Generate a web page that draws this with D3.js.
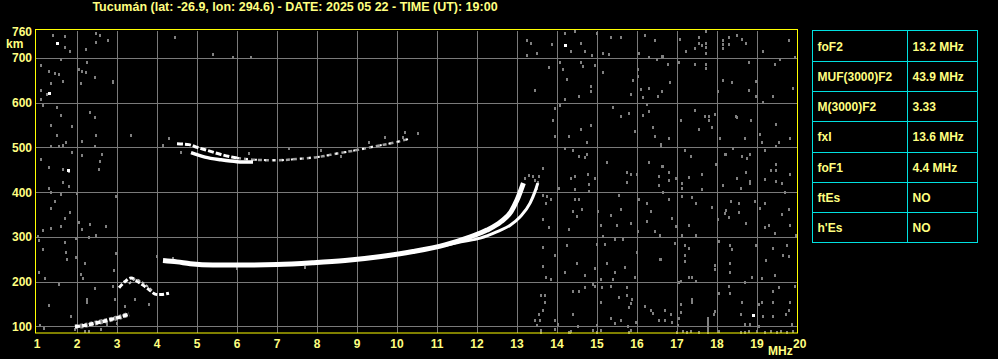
<!DOCTYPE html>
<html>
<head>
<meta charset="utf-8">
<style>
  body { margin: 0; background: #000; }
  svg { display: block; background: #000; }
  text { font-family: "Liberation Sans", Arial, sans-serif; font-weight: bold; fill: #ffff80; }
  .grid line { stroke: #7a7a7a; stroke-width: 1; shape-rendering: crispEdges; }
</style>
</head>
<body>
<svg width="998" height="359"></svg>
<script src="https://cdn.jsdelivr.net/npm/d3@7"></script>
<script>
// ionogram - Tucuman 2025-05-22 19:00 UT

var title = "Tucumán (lat: -26.9, lon: 294.6) - DATE: 2025 05 22 - TIME (UT): 19:00";
var freqTicks = [1,2,3,4,5,6,7,8,9,10,11,12,13,14,15,16,17,18,19,20];
var heightTicks = [100,200,300,400,500,600,700,760];

var paramNames = ["foF2", "MUF(3000)F2", "M(3000)F2", "fxI", "foF1", "ftEs", "h'Es"];
var paramValues = ["13.2 MHz", "43.9 MHz", "3.33", "13.6 MHz", "4.4 MHz", "NO", "NO"];

// echo traces [freq MHz, virtual height km]
var traceO = [[4.15,247],[4.5,244],[4.83,240],[5.4,237],[6.2,237],[7.0,238],[7.9,242],[8.7,247],
  [9.6,256],[10.4,267],[11.2,282],[11.8,299],[12.25,315],[12.6,334],[12.85,356],[13.0,382],[13.16,420]];
var traceX = [[11.2,281],[11.6,289],[12.08,297],[12.49,311],[12.83,326],[13.08,345],[13.33,376],[13.45,401],[13.52,420]];
var twoHopA = [[4.5,508],[4.8,506],[5.0,500],[5.3,492],[5.6,484],[6.0,476]];
var twoHopB = [[6.0,476],[6.5,472],[7.0,471],[7.5,474],[8.0,478],[8.5,486],[9.0,494],[9.5,503],[10.0,512],[10.3,519]];
var twoHopX = [[4.85,488],[5.2,478],[5.6,472],[6.0,468],[6.4,467]];
var eTrace = [[1.95,99],[2.2,102],[2.45,107],[2.75,113],[3.05,120],[3.3,127]];
var f1Trace = [[3.05,186],[3.2,200],[3.35,208],[3.5,201],[3.65,192],[3.8,182],[3.95,172],[4.1,171],[4.3,174]];
var f1TraceB = [[3.3,195],[3.45,205],[3.6,200],[3.75,190],[3.9,178]];

// scattered noise echoes
var noiseLeft = [[1.39,752],[1.69,748],[2.48,756],[2.58,752],[2.77,740],[2.48,735],[1.69,725],[1.83,715],[2.23,720],
  [1.59,698],[1.1,684],[1.3,670],[1.45,666],[1.55,664],[1.64,648],[1.35,644],[2.04,674],[2.13,670],[2.23,668],
  [2.44,657],[2.24,691],[2.89,648],[2.1,644],[1.1,629],[1.24,620],[1.1,607],[1.14,594],[1.49,590],[1.59,572],
  [1.88,547],[2.33,579],[2.44,567],[1.34,549],[1.49,527],[1.34,504],[1.55,504],[1.65,506],[1.73,512],[2.13,514],
  [2.48,527],[2.44,504],[1.88,489],[1.1,473],[2.13,483],[2.63,486],[1.3,456],[1.64,451],[1.79,447],[2.55,451],
  [2.58,469],[1.64,422],[1.79,413],[1.31,410],[1.34,400],[2.0,397],[1.6,395],[1.45,381],[1.34,365],[2.98,391],
  [1.83,355],[1.69,341],[2.04,333],[2.33,328],[1.16,315],[1.34,319],[1.6,324],[2.13,318],[2.73,324],[2.48,305],
  [2.31,300],[1.03,302],[1.06,293],[1.98,297],[1.14,273],[1.69,288],[1.72,266],[1.74,251],[1.97,255],[2.19,241],
  [2.98,264],[2.93,226],[1.06,221],[1.2,209],[1.55,194],[2.1,216],[2.14,209],[2.44,186],[2.89,190],[1.3,147],
  [2.25,162],[2.25,154],[1.84,124],[1.07,102],[1.18,97],[1.94,93],[2.19,89],[2.31,89],[2.89,646],[3.34,528],
  [2.6,95],[2.75,104],[3.0,108],[3.2,146],[3.45,160],[2.95,160]];
var noiseMid = [[4.45,747],[5.41,709],[5.89,702],[6.34,702],[13.24,740],[13.24,707],[10.2,534],[10.53,532],
  [9.7,522],[10.16,522],[4.3,520],[4.15,505],[4.6,490],[6.3,488],[7.3,498],[8.1,494],[8.6,480],[9.3,512],
  [4.0,257],[4.4,253],[6.0,231],[7.7,233],[12.3,318],[13.2,432],[13.3,438],[13.45,426],[13.55,436],[3.8,150]];
var noiseRight = [[14.2,756],[14.44,761],[14.99,756],[15.34,747],[15.59,747],[16.2,751],[16.44,739],[13.88,730],
  [14.59,734],[13.49,711],[14.34,715],[14.69,716],[14.88,707],[15.14,711],[15.3,709],[16.05,711],[16.3,701],
  [16.49,698],[16.64,704],[13.34,734],[14.07,691],[13.8,680],[14.15,674],[14.59,691],[14.65,681],[14.94,683],
  [15.15,669],[14.24,653],[14.84,638],[14.84,625],[13.45,629],[14.2,607],[14.54,615],[15.9,651],[16.03,674],
  [16.11,631],[16.29,633],[16.15,613],[16.52,615],[16.63,625],[15.84,619],[16.03,659],[13.94,587],[14.08,594],
  [13.9,560],[13.94,526],[14.29,526],[14.59,542],[14.84,551],[14.74,512],[15.39,590],[15.59,571],[15.79,577],
  [16.15,573],[16.29,582],[16.4,546],[15.95,536],[16.44,526],[16.61,508],[16.24,596],[14.2,499],[14.39,495],
  [14.55,481],[14.74,485],[14.69,478],[15.24,467],[13.64,454],[13.39,437],[13.53,422],[13.49,409],[14.44,437],
  [14.78,441],[14.94,431],[14.34,431],[14.79,419],[14.44,407],[15.74,445],[15.84,440],[15.75,422],[16.0,440],
  [16.3,467],[16.54,436],[16.55,416],[16.64,459],[14.04,410],[14.79,403],[15.54,394],[13.65,394],[13.75,392],
  [13.84,384],[13.73,375],[14.44,384],[14.55,384],[14.4,358],[14.63,362],[14.49,346],[15.03,357],[15.34,349],
  [15.09,327],[15.5,327],[15.59,362],[15.84,331],[16.04,385],[16.24,375],[16.34,358],[16.24,336],[16.44,313],
  [16.57,304],[16.03,313],[13.65,340],[13.8,321],[14.3,318],[15.15,301],[13.64,278],[13.94,260],[14.24,281],
  [14.2,221],[13.65,234],[13.84,206],[13.73,211],[14.49,241],[14.69,215],[14.94,231],[14.99,284],[15.2,284],
  [15.25,241],[15.44,222],[15.4,206],[15.09,206],[15.69,232],[15.99,267],[15.94,211],[15.44,294],[15.64,295],
  [16.59,251],[14.9,194],[14.94,191],[15.34,190],[15.74,187],[15.13,187],[14.39,178],[14.55,179],[14.69,188],
  [13.61,170],[13.69,170],[13.69,155],[13.65,137],[13.55,127],[13.44,114],[13.57,114],[13.49,103],[13.94,114],
  [14.03,104],[14.39,127],[14.53,101],[15.09,154],[15.54,166],[15.74,170],[15.88,161],[15.79,144],[15.86,151],
  [16.2,146],[16.36,137],[16.39,129],[16.55,114],[15.34,118],[15.44,107],[15.61,114],[15.77,101],[15.97,110],
  [14.99,103],[14.9,92],[15.11,92],[14.32,88],[13.94,94],[13.61,92],[15.86,92],
  [17.08,743],[17.54,747],[17.73,761],[17.73,734],[17.73,724],[17.54,734],[17.63,728],[17.44,721],[17.23,716],
  [17.73,711],[18.15,739],[18.29,747],[18.15,730],[18.29,730],[18.15,721],[18.5,752],[18.63,743],[18.73,734],
  [19.15,716],[19.79,741],[16.63,704],[19.94,702],[16.78,687],[17.04,691],[17.44,687],[17.73,687],[17.73,678],
  [18.79,690],[19.44,687],[19.58,698],[16.83,646],[16.63,625],[18.15,651],[18.38,646],[18.03,627],[18.79,629],
  [18.97,649],[18.98,614],[19.15,601],[19.4,614],[19.9,633],[17.44,584],[17.09,562],[17.69,569],[17.79,569],
  [17.94,575],[17.79,560],[17.88,545],[17.54,540],[18.47,569],[18.5,567],[18.84,562],[19.48,552],[19.08,530],
  [18.69,521],[18.08,521],[16.79,521],[19.82,521],[19.13,513],[19.54,512],[19.48,504],[16.59,504],[17.19,495],
  [17.34,481],[18.21,484],[18.23,486],[18.4,499],[18.63,481],[18.75,476],[18.83,485],[19.19,493],[19.48,463],
  [19.48,450],[19.36,450],[19.83,440],[16.63,459],[16.79,445],[16.79,428],[16.98,431],[17.29,434],[17.63,440],
  [17.98,463],[18.15,416],[18.51,431],[18.59,410],[18.73,445],[18.83,424],[18.82,420],[19.19,430],[19.48,425],
  [19.63,420],[17.13,420],[17.13,410],[17.63,407],[16.65,401],[19.69,400],[17.13,392],[16.79,384],[17.38,389],
  [17.48,375],[17.88,366],[18.34,381],[18.54,375],[18.23,360],[18.19,353],[18.3,344],[18.54,355],[18.94,381],
  [19.08,364],[19.19,375],[19.63,351],[19.79,362],[18.73,331],[18.02,340],[16.88,343],[16.98,325],[17.29,327],
  [19.19,322],[19.29,327],[19.44,308],[19.83,327],[19.98,304],[17.13,304],[17.48,304],[16.94,286],[17.19,281],
  [17.29,276],[17.19,260],[17.19,245],[16.58,251],[17.94,236],[17.94,228],[18.33,281],[18.38,273],[18.33,241],
  [18.33,222],[18.05,291],[18.98,282],[19.4,276],[19.75,282],[19.8,257],[19.65,260],[19.23,249],[19.44,215],
  [18.88,211],[19.13,207],[17.29,211],[17.38,211],[17.48,201],[17.11,201],[17.05,200],[18.3,189],[18.33,174],
  [18.05,174],[18.69,200],[19.54,187],[19.94,189],[19.4,178],[17.38,161],[17.38,155],[17.09,149],[18.63,154],
  [19.04,149],[19.13,154],[19.4,154],[19.83,154],[17.94,134],[19.79,137],[18.59,127],[19.15,124],[19.4,124],
  [19.73,127],[16.69,137],[16.86,127],[17.09,131],[16.69,114],[16.88,110],[17.93,127],[18.69,105],[18.83,105],
  [19.05,101],[17.03,103],[17.04,118],[19.88,105],
  [13.6,88],[14.3,88],[14.35,89],[14.99,88],[15.8,88],[17.0,88],[17.15,90],[17.25,88],[17.35,90],[17.55,88],
  [17.78,88],[17.78,93],[17.78,98],[17.78,103],[17.78,108],[17.78,113],[17.78,118],[18.05,89],[18.6,88],
  [18.7,88],[18.8,89],[19.0,90],[19.2,88],[19.35,89],[19.5,88],[19.6,90],[19.75,88],[19.9,89]];
var noiseWhite = [[1.49,732],[1.3,620],[1.78,447],[14.2,726],[18.9,124]];

var svg = d3.select("svg");

// plot frame
var plotL = 37, plotR = 797, plotT = 31, plotB = 333;
var x = d3.scaleLinear().domain([1, 20]).range([plotL, plotR]);
var y = d3.scaleLinear().domain([85, 760]).range([plotB, plotT]);

// grid
var grid = svg.append("g").attr("class", "grid");
grid.selectAll("line.v")
  .data(freqTicks.slice(1, -1))
  .enter().append("line").attr("class", "v")
  .attr("x1", function(d) { return Math.round(x(d)) + 0.5; })
  .attr("x2", function(d) { return Math.round(x(d)) + 0.5; })
  .attr("y1", plotT).attr("y2", plotB);
grid.selectAll("line.h")
  .data(heightTicks.slice(0, -1))
  .enter().append("line").attr("class", "h")
  .attr("y1", function(d) { return Math.round(y(d)) + 0.5; })
  .attr("y2", function(d) { return Math.round(y(d)) + 0.5; })
  .attr("x1", plotL - 1).attr("x2", plotR);

// noise dots
var allNoise = noiseLeft.concat(noiseMid, noiseRight);
svg.append("g").selectAll("rect")
  .data(allNoise)
  .enter().append("rect")
  .attr("x", function(d) { return Math.round(x(d[0])) - 1; })
  .attr("y", function(d) { return Math.round(y(d[1])) - 1; })
  .attr("width", 2).attr("height", 3)
  .attr("fill", "#808080");

svg.append("g").selectAll("rect")
  .data(noiseWhite)
  .enter().append("rect")
  .attr("x", function(d) { return Math.round(x(d[0])) - 1; })
  .attr("y", function(d) { return Math.round(y(d[1])) - 2; })
  .attr("width", 3).attr("height", 3)
  .attr("fill", "#ffffff");

// traces
var line = d3.line()
  .x(function(d) { return x(d[0]); })
  .y(function(d) { return y(d[1]); })
  .curve(d3.curveMonotoneX);
var lineC = d3.line()
  .x(function(d) { return x(d[0]); })
  .y(function(d) { return y(d[1]); })
  .curve(d3.curveCatmullRom);

function trace(data, gen, color, width, dash) {
  svg.append("path")
    .attr("d", gen(data))
    .attr("fill", "none")
    .attr("stroke", color)
    .attr("stroke-width", width)
    .attr("stroke-dasharray", dash || null);
}

trace(twoHopB, line, "#a0a0a0", 2.5, "4,3");
trace(twoHopB, line, "#ffffff", 2, "2,7");
trace(twoHopA, line, "#ffffff", 3, "6,2");
trace(twoHopX, line, "#ffffff", 3.5);
trace(eTrace, lineC, "#909090", 5, "3,2");
trace(eTrace, lineC, "#ffffff", 3.5, "5,2");
trace(f1Trace, lineC, "#ffffff", 3, "5,2");
trace(f1TraceB, lineC, "#c0c0c0", 2, "3,2");
trace(traceO, line, "#ffffff", 5);
trace(traceX, line, "#ffffff", 3);

// frame
svg.append("rect")
  .attr("x", plotL - 1.5).attr("y", plotT - 1.5)
  .attr("width", plotR - plotL + 2).attr("height", plotB - plotT + 1.5)
  .attr("fill", "none").attr("stroke", "#ffff00").attr("stroke-width", 1);

// axis labels
svg.append("g").selectAll("text")
  .data(freqTicks.slice(0, -1))
  .enter().append("text")
  .attr("x", function(d) { return x(d); })
  .attr("y", 348)
  .attr("text-anchor", "middle")
  .attr("font-size", 12)
  .text(function(d) { return d; });
svg.append("text").attr("x", x(20) - 4).attr("y", 348).attr("font-size", 12).text("20");
svg.append("text").attr("x", 768).attr("y", 355).attr("font-size", 12).text("MHz");

svg.append("g").selectAll("text")
  .data(heightTicks)
  .enter().append("text")
  .attr("x", 32)
  .attr("y", function(d) { return y(d) + 4.5; })
  .attr("text-anchor", "end")
  .attr("font-size", 12)
  .text(function(d) { return d; });
svg.append("text").attr("x", 6).attr("y", 48).attr("font-size", 12).text("km");

svg.append("text")
  .attr("x", 295).attr("y", 11)
  .attr("text-anchor", "middle")
  .attr("font-size", 12.5)
  .text(title);

// parameter table
var tx0 = 812.5, tx1 = 907.5, tx2 = 977.5;
var rowY = d3.scaleLinear().domain([0, paramNames.length]).range([30.5, 242.5]);
var table = svg.append("g");
table.append("rect")
  .attr("x", tx0).attr("y", rowY(0))
  .attr("width", tx2 - tx0).attr("height", rowY(paramNames.length) - rowY(0))
  .attr("fill", "none").attr("stroke", "#00e0e0");
table.selectAll("line.r")
  .data(paramNames.slice(1))
  .enter().append("line").attr("class", "r")
  .attr("x1", tx0).attr("x2", tx2)
  .attr("y1", function(d, i) { return Math.round(rowY(i + 1)) + 0.5; })
  .attr("y2", function(d, i) { return Math.round(rowY(i + 1)) + 0.5; })
  .attr("stroke", "#00e0e0");
table.append("line")
  .attr("x1", tx1).attr("x2", tx1).attr("y1", rowY(0)).attr("y2", rowY(paramNames.length))
  .attr("stroke", "#00e0e0");
table.selectAll("text.n")
  .data(paramNames)
  .enter().append("text").attr("class", "n")
  .attr("x", 817.5)
  .attr("y", function(d, i) { return rowY(i) + 20; })
  .attr("font-size", 12)
  .text(function(d) { return d; });
table.selectAll("text.v")
  .data(paramValues)
  .enter().append("text").attr("class", "v")
  .attr("x", 912.5)
  .attr("y", function(d, i) { return rowY(i) + 20; })
  .attr("font-size", 12)
  .text(function(d) { return d; });
</script>
</body>
</html>
